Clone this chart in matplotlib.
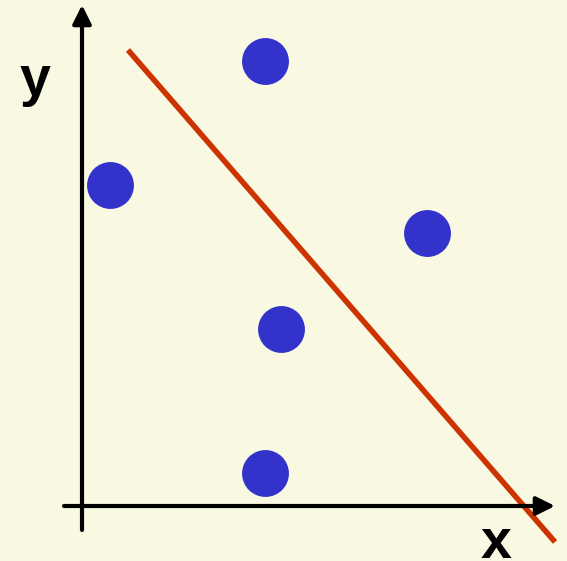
import matplotlib.pyplot as plt

# data coordinates measured from the axis origin
point_x = [183, 28, 345, 199, 183]
point_y = [445, 321, 273, 177, 33]
line_x = [46, 473]
line_y = [456, -36]

bg = '#f9f9e3'

fig = plt.figure(figsize=(5.67, 5.61), dpi=100, facecolor=bg)
ax = fig.add_axes([0, 0, 1, 1])
ax.set_facecolor(bg)
ax.set_xlim(-82, 485)
ax.set_ylim(-55, 506)
ax.axis('off')

# axes arrows
arrow = dict(arrowstyle='-|>', lw=3, color='black', mutation_scale=28, shrinkA=0, shrinkB=0)
ax.annotate('', xy=(0, 501), xytext=(0, -24), arrowprops=arrow)
ax.annotate('', xy=(473, 0), xytext=(-18, 0), arrowprops=arrow)

ax.plot(line_x, line_y, color='#cc3300', lw=4, solid_capstyle='butt')
ax.scatter(point_x, point_y, s=1140, color='#3333cc', zorder=3, linewidths=0)

ax.text(-47, 411, 'y', fontsize=40, fontweight='bold', family='Liberation Sans',
        ha='center', va='baseline')
ax.text(414, -52, 'x', fontsize=40, fontweight='bold', family='Liberation Sans',
        ha='center', va='baseline')

fig.savefig('out.png', dpi=100, facecolor=bg)
